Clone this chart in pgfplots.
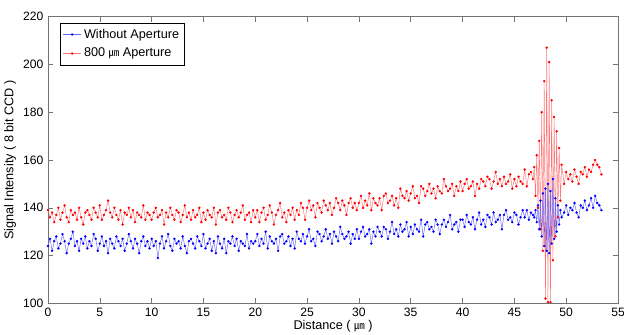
\documentclass[border=0pt]{standalone}
\usepackage{pgfplots}
\pgfplotsset{compat=1.18}
\usepackage{fontspec}
\setmainfont{Liberation Sans}
\newfontfamily\cjk{Noto Sans CJK SC}
\newcommand{\um}{{\cjk\fontsize{8}{9}\selectfont ㎛}}
\begin{document}
\begin{tikzpicture}
\begin{axis}[
  scale only axis,
  width=427.5pt, height=215pt,
  xmin=0, xmax=55, ymin=100, ymax=220,
  xtick={0,5,...,55}, ytick={100,120,...,220},
  /pgf/number format/assume math mode=true,
  tick label style={font=\fontsize{9.1}{11}\selectfont},
  label style={font=\fontsize{9.5}{11}\selectfont},
  axis line style={gray!90!black, line width=0.6pt}, tick style={gray!90!black, line width=0.4pt},
  major tick length=3.8pt,
  xlabel={Distance ( \um\ )},
  ylabel={Signal Intensity ( 8 bit CCD )},
  xlabel style={at={(axis description cs:0.5,-0.079)}, anchor=center},
  ylabel style={at={(axis description cs:-0.0667,0.5)}, anchor=center},
  clip=true,
  reverse legend,
  legend cell align=left,
  legend style={at={(0.021,0.979)}, anchor=north west, draw=black, fill=white,
    font=\fontsize{9.5}{11}\selectfont, inner xsep=2pt, inner ysep=2.5pt, row sep=2pt},
  legend image code/.code={\draw[mark repeat=2,mark phase=2,#1] plot coordinates {(0pt,0pt) (6.75pt,0pt) (13.5pt,0pt)};},
]
\coordinate (ll) at (rel axis cs:0,0);
\coordinate (ur) at (rel axis cs:1,1);
% red series
\addplot[color=red!55, line width=0.35pt, mark=*, mark size=0.72pt, mark options={draw=red, fill=red}] coordinates {
(0,139)(0.2,136)(0.4,138)(0.6,134)(0.8,137)(1,140)(1.2,135)(1.4,138)(1.6,141)(1.8,136)
(2,134)(2.2,139)(2.4,137)(2.6,138)(2.8,135)(3,140)(3.2,136)(3.4,133)(3.6,138)(3.8,139)
(4,137)(4.2,135)(4.4,140)(4.6,138)(4.8,136)(5,141)(5.2,135)(5.4,137)(5.6,139)(5.8,143)
(6,138)(6.2,136)(6.4,140)(6.6,137)(6.8,135)(7,139)(7.2,133)(7.4,138)(7.6,137)(7.8,140)
(8,136)(8.2,139)(8.4,134)(8.6,138)(8.8,137)(9,136)(9.2,141)(9.4,135)(9.6,138)(9.8,137)
(10,135)(10.2,138)(10.4,140)(10.6,136)(10.8,137)(11,139)(11.2,133)(11.4,138)(11.6,136)(11.8,140)
(12,137)(12.2,135)(12.4,139)(12.6,138)(12.8,134)(13,137)(13.2,141)(13.4,136)(13.6,138)(13.8,135)
(14,139)(14.2,136)(14.4,137)(14.6,140)(14.8,134)(15,138)(15.2,135)(15.4,139)(15.6,137)(15.8,136)
(16,140)(16.2,133)(16.4,138)(16.6,139)(16.8,136)(17,137)(17.2,135)(17.4,140)(17.6,138)(17.8,134)
(18,137)(18.2,139)(18.4,136)(18.6,138)(18.8,141)(19,135)(19.2,137)(19.4,138)(19.6,134)(19.8,139)
(20,136)(20.2,139)(20.4,134)(20.6,138)(20.8,140)(21,135)(21.2,137)(21.4,141)(21.6,138)(21.8,133)
(22,137)(22.2,139)(22.4,142)(22.6,136)(22.8,138)(23,134)(23.2,139)(23.4,137)(23.6,140)(23.8,135)
(24,139)(24.2,137)(24.4,142)(24.6,140)(24.8,135)(25,140)(25.2,143)(25.4,139)(25.6,141)(25.8,136)
(26,142)(26.2,140)(26.4,138)(26.6,143)(26.8,141)(27,139)(27.2,142)(27.4,137)(27.6,140)(27.8,144)
(28,142)(28.2,139)(28.4,143)(28.6,141)(28.8,137)(29,142)(29.2,144)(29.4,140)(29.6,142)(29.8,139)
(30,142)(30.2,145)(30.4,140)(30.6,143)(30.8,141)(31,146)(31.2,139)(31.4,144)(31.6,142)(31.8,141)
(32,144)(32.2,139)(32.4,145)(32.6,146)(32.8,142)(33,143)(33.2,145)(33.4,141)(33.6,144)(33.8,140)
(34,148)(34.2,145)(34.4,144)(34.6,147)(34.8,143)(35,146)(35.2,149)(35.4,144)(35.6,145)(35.8,142)
(36,149)(36.2,148)(36.4,145)(36.6,147)(36.8,150)(37,146)(37.2,148)(37.4,144)(37.6,149)(37.8,147)
(38,146)(38.2,152)(38.4,149)(38.6,147)(38.8,148)(39,150)(39.2,145)(39.4,149)(39.6,147)(39.8,151)
(40,147)(40.2,150)(40.4,152)(40.6,148)(40.8,149)(41,151)(41.2,145)(41.4,150)(41.6,148)(41.8,152)
(42,151)(42.2,149)(42.4,153)(42.6,152)(42.8,148)(43,151)(43.2,155)(43.4,150)(43.6,152)(43.8,149)
(44,153)(44.2,150)(44.4,151)(44.6,154)(44.8,148)(45,152)(45.2,149)(45.4,153)(45.6,151)(45.8,150)
(46,156)(46.2,149)(46.4,154)(46.6,155)(46.8,152)
(46.92,157)(47.04,145)(47.16,162)(47.28,140)(47.40,168)(47.52,131)(47.64,180)(47.76,122)
(47.88,193)(48.00,102)(48.12,207)(48.24,100.5)(48.36,201)(48.48,100.5)(48.60,185)(48.72,118)
(48.84,178)(48.96,128)(49.08,172)(49.20,136)(49.32,165)(49.44,143)(49.56,158)
(49.8,150)(50,155)(50.2,152)(50.4,154)(50.6,151)(50.8,156)(51,153)(51.2,150)(51.4,155)(51.6,154)
(51.8,157)(52,153)(52.2,156)(52.4,155)(52.6,158)(52.8,160)(53,158)(53.2,157)(53.4,154)
};
\addlegendentry{800 \um\ Aperture}
% blue series
\addplot[color=blue!60, line width=0.35pt, mark=*, mark size=0.72pt, mark options={draw=blue, fill=blue}] coordinates {
(0,124)(0.2,127)(0.4,122)(0.6,126)(0.8,128)(1,123)(1.2,125)(1.4,129)(1.6,126)(1.8,121)
(2,125)(2.2,127)(2.4,130)(2.6,124)(2.8,126)(3,122)(3.2,127)(3.4,125)(3.6,128)(3.8,123)
(4,126)(4.2,124)(4.4,129)(4.6,127)(4.8,122)(5,125)(5.2,128)(5.4,124)(5.6,126)(5.8,121)
(6,127)(6.2,125)(6.4,123)(6.6,128)(6.8,126)(7,124)(7.2,127)(7.4,122)(7.6,125)(7.8,129)
(8,126)(8.2,123)(8.4,127)(8.6,125)(8.8,121)(9,126)(9.2,128)(9.4,124)(9.6,126)(9.8,123)
(10,127)(10.2,124)(10.4,126)(10.6,119)(10.8,125)(11,128)(11.2,123)(11.4,126)(11.6,129)(11.8,124)
(12,122)(12.2,127)(12.4,125)(12.6,126)(12.8,123)(13,128)(13.2,124)(13.4,121)(13.6,126)(13.8,127)
(14,125)(14.2,123)(14.4,128)(14.6,126)(14.8,124)(15,129)(15.2,123)(15.4,125)(15.6,127)(15.8,122)
(16,126)(16.2,121)(16.4,128)(16.6,125)(16.8,123)(17,127)(17.2,121)(17.4,126)(17.6,125)(17.8,128)
(18,124)(18.2,127)(18.4,122)(18.6,126)(18.8,125)(19,124)(19.2,129)(19.4,123)(19.6,126)(19.8,125)
(20,126)(20.2,129)(20.4,124)(20.6,127)(20.8,125)(21,130)(21.2,123)(21.4,128)(21.6,126)(21.8,125)
(22,127)(22.2,122)(22.4,128)(22.6,129)(22.8,125)(23,126)(23.2,128)(23.4,124)(23.6,127)(23.8,123)
(24,130)(24.2,127)(24.4,126)(24.6,129)(24.8,125)(25,128)(25.2,131)(25.4,126)(25.6,127)(25.8,124)
(26,130)(26.2,129)(26.4,126)(26.6,128)(26.8,131)(27,127)(27.2,129)(27.4,125)(27.6,130)(27.8,128)
(28,126)(28.2,132)(28.4,129)(28.6,127)(28.8,128)(29,130)(29.2,125)(29.4,129)(29.6,127)(29.8,131)
(30,127)(30.2,130)(30.4,132)(30.6,128)(30.8,129)(31,131)(31.2,125)(31.4,130)(31.6,128)(31.8,132)
(32,130)(32.2,128)(32.4,132)(32.6,131)(32.8,127)(33,130)(33.2,134)(33.4,129)(33.6,131)(33.8,128)
(34,133)(34.2,130)(34.4,131)(34.6,134)(34.8,128)(35,132)(35.2,129)(35.4,133)(35.6,131)(35.8,130)
(36,135)(36.2,128)(36.4,133)(36.6,134)(36.8,131)(37,132)(37.2,130)(37.4,135)(37.6,133)(37.8,129)
(38,133)(38.2,135)(38.4,132)(38.6,134)(38.8,137)(39,131)(39.2,133)(39.4,134)(39.6,130)(39.8,135)
(40,135)(40.2,132)(40.4,137)(40.6,134)(40.8,133)(41,136)(41.2,131)(41.4,135)(41.6,138)(41.8,133)
(42,135)(42.2,132)(42.4,137)(42.6,136)(42.8,133)(43,138)(43.2,134)(43.4,135)(43.6,137)(43.8,131)
(44,137)(44.2,139)(44.4,135)(44.6,136)(44.8,134)(45,138)(45.2,137)(45.4,133)(45.6,136)(45.8,139)
(46,136)(46.2,139)(46.4,135)(46.6,138)(46.8,137)
(46.92,136)(47.04,139)(47.16,134)(47.28,141)(47.40,131)(47.52,143)(47.64,128)(47.76,146)
(47.88,124)(48.00,148)(48.12,122)(48.24,150)(48.36,121)(48.48,147)(48.60,125)(48.72,152)
(48.84,127)(48.96,144)(49.08,130)(49.20,141)(49.32,133)(49.44,139)(49.56,136)
(49.8,138)(50,141)(50.2,137)(50.4,140)(50.6,139)(50.8,142)(51,138)(51.2,136)(51.4,141)(51.6,140)
(51.8,143)(52,139)(52.2,141)(52.4,144)(52.6,140)(52.8,145)(53,142)(53.2,141)(53.4,139)
};
\addlegendentry{Without Aperture}
\end{axis}
\pgfresetboundingbox
\path ([xshift=-36pt,yshift=-23.6pt]ll) rectangle ([xshift=4.5pt,yshift=12.5pt]ur);
\end{tikzpicture}
\end{document}
